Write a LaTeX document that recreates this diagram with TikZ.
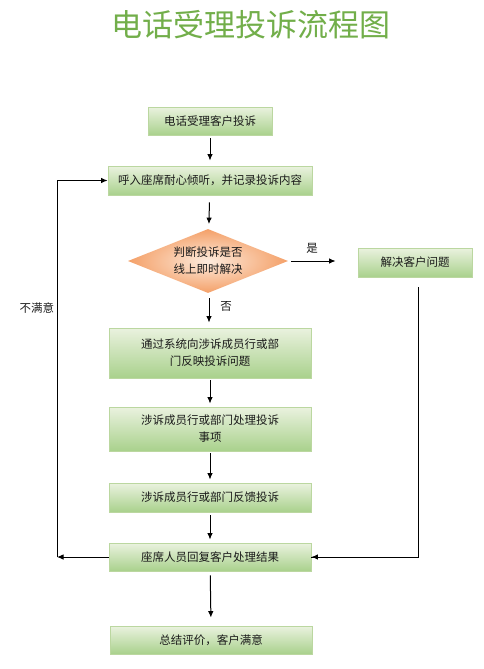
\documentclass[tikz,border=0pt]{standalone}
\usepackage{fontspec}
\newfontfamily\cjk{Noto Sans CJK SC}
\usetikzlibrary{shapes.geometric,arrows.meta}
\definecolor{boxtop}{HTML}{EAF2DF}
\definecolor{boxbot}{HTML}{A9D18C}
\definecolor{boxline}{HTML}{BBD7A0}
\definecolor{dinner}{HTML}{FDEBDD}
\definecolor{douter}{HTML}{F4A068}
\definecolor{titlegreen}{HTML}{72AE4A}
\definecolor{txt}{HTML}{1A1A1A}
\tikzset{
  box/.style={rectangle, draw=boxline, line width=0.8pt, top color=boxtop, bottom color=boxbot,
    minimum height=#1, inner sep=2pt, align=center, text=txt,
    font=\cjk\fontsize{11.5}{17}\selectfont},
  box/.default=28pt,
  dia/.style={diamond, inner color=dinner, outer color=douter, draw=none, aspect=2.5, inner sep=0pt,
    minimum width=160pt, minimum height=64pt, align=center, text=txt,
    font=\cjk\fontsize{11.5}{17}\selectfont},
  lbl/.style={text=txt, font=\cjk\fontsize{11.5}{14}\selectfont, inner sep=0pt},
  arr/.style={line width=1pt, -{Latex[length=6.5pt,width=5.5pt]}},
  ln/.style={line width=1pt}
}
\begin{document}
\begin{tikzpicture}[x=1pt,y=-1pt]
\useasboundingbox (0,0) rectangle (484,669);
\node[text=titlegreen, font=\cjk\fontsize{31}{33}\selectfont] (title) at (251,25) {电话受理投诉流程图};
\node[box, minimum width=124pt] (b1) at (210,121) {电话受理客户投诉};
\node[box=29pt, minimum width=204pt] (b2) at (210,180.5) {呼入座席耐心倾听，并记录投诉内容};
\node[dia] (d) at (208,261) {判断投诉是否\\线上即时解决};
\node[box=29pt, minimum width=114pt] (b3) at (415,262.5) {解决客户问题};
\node[box=50pt, minimum width=202pt] (b4) at (210,353) {通过系统向涉诉成员行或部\\门反映投诉问题};
\node[box=44pt, minimum width=202pt] (b5) at (210,429) {涉诉成员行或部门处理投诉\\事项};
\node[box=29pt, minimum width=202pt] (b6) at (210,497.5) {涉诉成员行或部门反馈投诉};
\node[box, minimum width=202pt] (b7) at (210,557) {座席人员回复客户处理结果};
\node[box, minimum width=202pt] (b8) at (211,640) {总结评价，客户满意};
\node[lbl] (yes) at (312,248) {是};
\node[lbl] (no) at (226,306) {否};
\node[lbl] (bad) at (37,308) {不满意};
\coordinate (L1) at (57,557);
\draw[arr, shorten <=3pt, shorten >=5pt] (b1) -- (b2);
\draw[arr, shorten <=7pt, shorten >=5pt] (b2) -- (d);
\draw[arr, shorten <=5pt, shorten >=5pt] ([xshift=1pt]d.south) -- ([xshift=1pt]d.south |- b4.north);
\draw[arr, shorten <=3pt, shorten >=22pt] (d.east) -- (d.east -| b3.west);
\draw[arr, shorten <=2pt, shorten >=3pt] (b4) -- (b5);
\draw[arr, shorten <=2pt, shorten >=3pt] (b5) -- (b6);
\draw[arr, shorten <=3pt, shorten >=3pt] (b6) -- (b7);
\draw[arr, shorten <=4pt, shorten >=8pt] (b7) -- ([xshift=1pt]b7.south |- b8.north);
\draw[ln, shorten <=10pt] ([xshift=3pt]b3.south) |- (b7.east);
\draw[arr] ([xshift=3pt]b3.south |- b7.east) -- (b7.east);
\draw[arr] (b7.west) -- (L1);
\draw[arr] (L1) |- (b2.west);
\end{tikzpicture}
\end{document}
